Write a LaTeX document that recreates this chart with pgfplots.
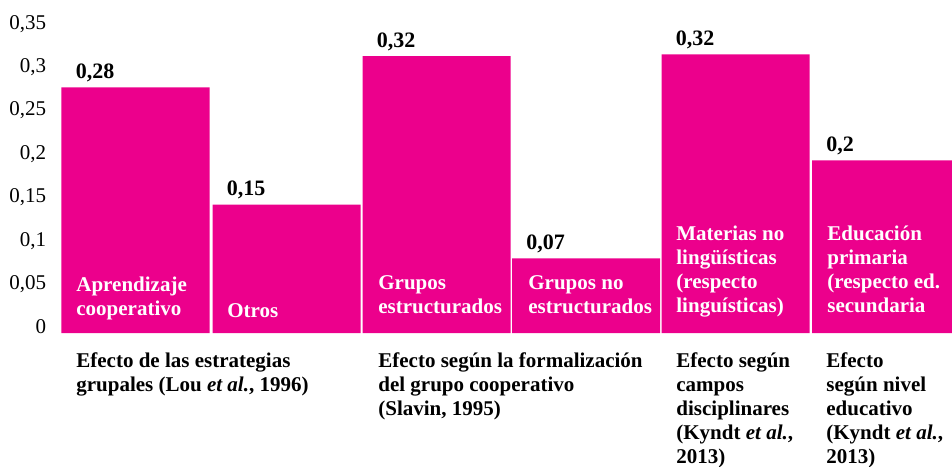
\documentclass[border=0pt]{standalone}
\usepackage{fontspec}
\setmainfont{Liberation Serif}
\usepackage{pgfplots}
\pgfplotsset{compat=1.18}
\definecolor{mag}{RGB}{236,0,140}
\begin{document}
\fontsize{10.5}{12}\selectfont
\begin{tikzpicture}
\begin{axis}[name=ax, scale only axis, width=446pt, height=166.5pt,
  xmin=60, xmax=952, ymin=0, ymax=0.38364,
  axis line style={draw=none}, xtick=\empty,
  ytick={0,0.05,0.1,0.15,0.2,0.25,0.3,0.35},
  yticklabels={0,{0,05},{0,1},{0,15},{0,2},{0,25},{0,3},{0,35}},
  major tick length=0pt, ytick style={draw=none},
  yticklabel style={anchor=base east, inner sep=0pt, xshift=-6.75pt},
  ybar, bar width=148, bar shift=0pt,
  clip mode=individual,
  point meta=explicit symbolic,
  nodes near coords,
  nodes near coords style={anchor=base west, inner sep=0pt, xshift=-30pt, yshift=4.5pt, font=\bfseries\fontsize{11}{12}\selectfont},
]
\addplot[fill=mag, draw=none] table[meta=lab] {
x y lab
135.5 0.283 0,28
286.5 0.148 0,15
436.5 0.319 0,32
586 0.086 0,07
735.5 0.321 0,32
886 0.199 0,2
};
\tikzset{inl/.style={anchor=base west, inner sep=0pt, text=white, font=\bfseries}}
\node[inl, yshift=9pt] at (axis cs:76,0) {\begin{tabular}[b]{@{}l@{}}Aprendizaje\\cooperativo\end{tabular}};
\node[inl, yshift=8pt] at (axis cs:227,0) {\begin{tabular}[b]{@{}l@{}}Otros\end{tabular}};
\node[inl, yshift=10pt] at (axis cs:378,0) {\begin{tabular}[b]{@{}l@{}}Grupos\\estructurados\end{tabular}};
\node[inl, yshift=10pt] at (axis cs:528,0) {\begin{tabular}[b]{@{}l@{}}Grupos no\\estructurados\end{tabular}};
\node[inl, yshift=10.5pt] at (axis cs:676,0) {\begin{tabular}[b]{@{}l@{}}Materias no\\lingüísticas\\(respecto\\linguísticas)\end{tabular}};
\node[inl, yshift=10.5pt] at (axis cs:827,0) {\begin{tabular}[b]{@{}l@{}}Educación\\primaria\\(respecto ed.\\secundaria\end{tabular}};
\tikzset{grl/.style={anchor=base west, inner sep=0pt, text=black, font=\bfseries}}
\node[grl, yshift=-17pt] at (axis cs:76,0) {\begin{tabular}[t]{@{}l@{}}Efecto de las estrategias\\grupales (Lou \textit{et al.}, 1996)\end{tabular}};
\node[grl, yshift=-17pt] at (axis cs:378,0) {\begin{tabular}[t]{@{}l@{}}Efecto según la formalización\\del grupo cooperativo\\(Slavin, 1995)\end{tabular}};
\node[grl, yshift=-17pt] at (axis cs:676,0) {\begin{tabular}[t]{@{}l@{}}Efecto según\\campos\\disciplinares\\(Kyndt \textit{et al.},\\2013)\end{tabular}};
\node[grl, yshift=-17pt] at (axis cs:826,0) {\begin{tabular}[t]{@{}l@{}}Efecto\\según nivel\\educativo\\(Kyndt \textit{et al.},\\2013)\end{tabular}};
\end{axis}
\pgfresetboundingbox
\path ([xshift=-30pt]ax.north west) rectangle ([yshift=-66.5pt]ax.south east);
\end{tikzpicture}
\end{document}
